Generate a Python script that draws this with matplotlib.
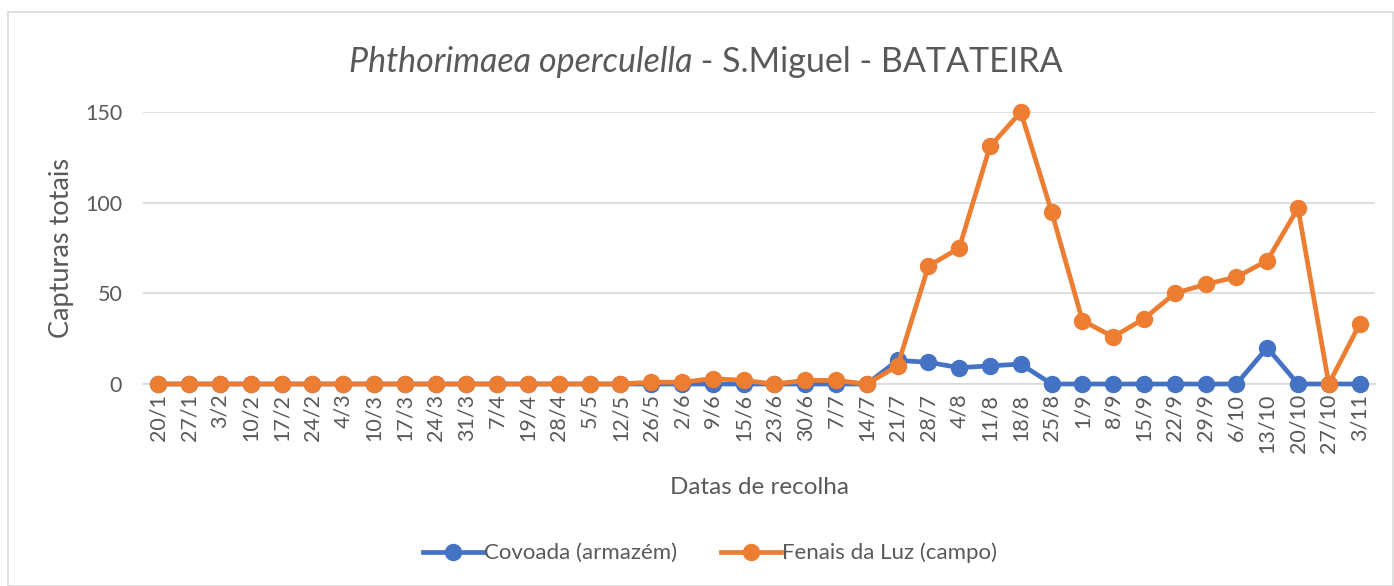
import matplotlib
matplotlib.use("Agg")
import matplotlib.pyplot as plt
from matplotlib.patches import Rectangle
from matplotlib.lines import Line2D

dates = ["20/1", "27/1", "3/2", "10/2", "17/2", "24/2", "4/3", "10/3", "17/3", "24/3",
         "31/3", "7/4", "19/4", "28/4", "5/5", "12/5", "26/5", "2/6", "9/6", "15/6",
         "23/6", "30/6", "7/7", "14/7", "21/7", "28/7", "4/8", "11/8", "18/8", "25/8",
         "1/9", "8/9", "15/9", "22/9", "29/9", "6/10", "13/10", "20/10", "27/10", "3/11"]

covoada = [0, 0, 0, 0, 0, 0, 0, 0, 0, 0,
           0, 0, 0, 0, 0, 0, 0, 0, 0, 0,
           0, 0, 0, 0, 13, 12, 9, 10, 11, 0,
           0, 0, 0, 0, 0, 0, 20, 0, 0, 0]

fenais = [0, 0, 0, 0, 0, 0, 0, 0, 0, 0,
          0, 0, 0, 0, 0, 0, 1, 1, 3, 2,
          0, 2, 2, 0, 10, 65, 75, 131, 150, 95,
          35, 26, 36, 50, 55, 59, 68, 97, 0, 33]

series_names = ["Covoada (armazém)", "Fenais da Luz (campo)"]
colors = ["#4472C4", "#ED7D31"]
text_color = "#595959"
FONT = "Lato"

plt.rcParams['font.family'] = [FONT, 'DejaVu Sans']

fig = plt.figure(figsize=(13.94, 5.86), dpi=100)
fig.patches.append(Rectangle((8/1394, 0), 1 - 8/1394 - 0.0005, 1 - 12/586,
                             transform=fig.transFigure, fill=False,
                             edgecolor="#D9D9D9", linewidth=1.2))

ax = fig.add_axes([143/1394, 1 - 384/586, (1375 - 143)/1394, (384 - 112)/586])
x = list(range(len(dates)))
for vals, c, name in zip([covoada, fenais], colors, series_names):
    ax.plot(x, vals, color=c, lw=3.4, marker='o', markersize=11.5, label=name,
            clip_on=False, solid_capstyle='round', zorder=3)

ax.set_xlim(-0.5, len(dates) - 0.5)
ax.set_ylim(0, 150)
ax.set_yticks([0, 50, 100, 150])
ax.grid(axis='y', color="#D9D9D9", lw=1.2, zorder=0)
ax.set_axisbelow(True)
for s in ['top', 'right', 'left']:
    ax.spines[s].set_visible(False)
ax.spines['bottom'].set_color("#D9D9D9")
ax.spines['bottom'].set_linewidth(1.2)
ax.set_xticks(x)
ax.set_xticklabels(dates, rotation=90, fontsize=15.5, color=text_color)
ax.tick_params(axis='x', length=0, pad=7)
ax.tick_params(axis='y', length=0, pad=15, labelsize=15.5, labelcolor=text_color)
ax.set_ylabel("Capturas totais", fontsize=19.5, color=text_color, labelpad=8)
ax.set_xlabel("Datas de recolha", fontsize=17.5, color=text_color, labelpad=17)

# Title with italic species name
fig.canvas.draw()
r = fig.canvas.get_renderer()
t1 = fig.text(0, 0, "Phthorimaea operculella", fontsize=24.5, style='italic', color=text_color)
t2 = fig.text(0, 0, " - S.Miguel - BATATEIRA", fontsize=24.5, color=text_color)
w1 = t1.get_window_extent(r).width
w2 = t2.get_window_extent(r).width
total = w1 + w2
cx = 706
ty = 586 - 72
t1.set_position(((cx - total / 2) / 1394, ty / 586))
t2.set_position(((cx - total / 2 + w1) / 1394, ty / 586))

handles = [Line2D([0], [0], color=c, lw=3.4, marker='o', markersize=11.5) for c in colors]
leg = fig.legend(handles, series_names, loc='center', bbox_to_anchor=(710/1394, 1 - 553/586),
                 ncol=2, frameon=False, fontsize=16, handlelength=2.7, columnspacing=2.0,
                 handletextpad=0.05)
for t in leg.get_texts():
    t.set_color(text_color)

fig.savefig("out.png", dpi=100)
